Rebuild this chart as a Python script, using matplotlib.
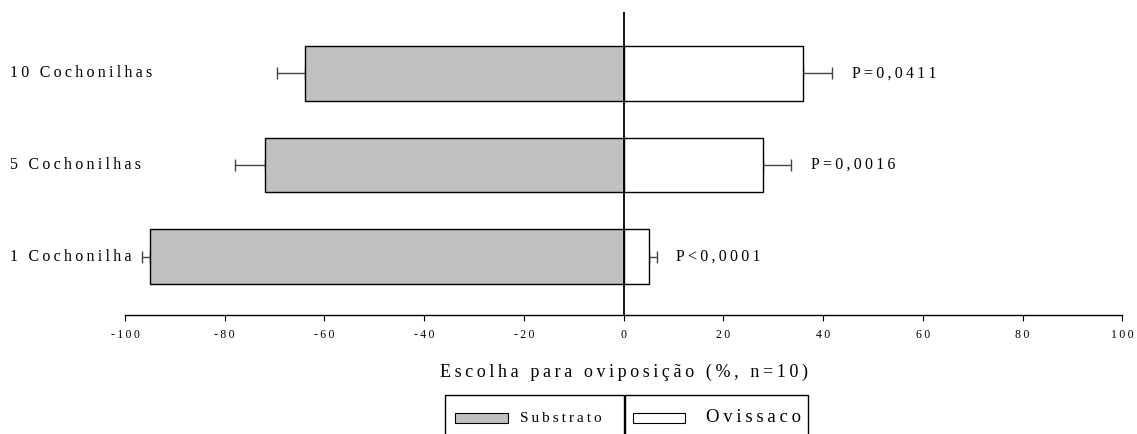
import numpy as np
import matplotlib.pyplot as plt
from matplotlib.patches import Rectangle
from matplotlib.transforms import blended_transform_factory

categories = ["1 Cochonilha", "5 Cochonilhas", "10 Cochonilhas"]
substrato = [-95, -72, -64]
substrato_err = [1.6, 6.0, 5.6]
ovissaco = [5, 28, 36]
ovissaco_err = [1.6, 5.6, 5.8]
p_labels = ["P<0,0001", "P=0,0016", "P=0,0411"]
series_names = ["Substrato", "Ovissaco"]
ticks = np.arange(-100, 101, 20)

plt.rcParams['font.family'] = ['Liberation Serif', 'DejaVu Serif']


def spaced(s):
    # the original uses wide letter spacing
    return '\u2009'.join(s)


fig = plt.figure(figsize=(11.37, 4.34), dpi=100)
ax = fig.add_axes([0.110, 0.274, 0.877, 0.698])

y = np.arange(len(categories))
h = 0.6
ax.barh(y, substrato, height=h, color='#c0c0c0', edgecolor='black', linewidth=1.0, zorder=2)
ax.barh(y, ovissaco, height=h, color='white', edgecolor='black', linewidth=1.0, zorder=2)
ax.errorbar(substrato, y, xerr=[substrato_err, [0] * 3], fmt='none', ecolor='#444444',
            elinewidth=1.0, capsize=4, capthick=1.0, zorder=1)
ax.errorbar(ovissaco, y, xerr=[[0] * 3, ovissaco_err], fmt='none', ecolor='#444444',
            elinewidth=1.0, capsize=4, capthick=1.0, zorder=1)
ax.axvline(0, color='black', linewidth=1.3, zorder=3)

for i in range(len(categories)):
    ax.text(ovissaco[i] + ovissaco_err[i] + 4, y[i], spaced(p_labels[i]), va='center', ha='left', fontsize=11.5)

trans = blended_transform_factory(fig.transFigure, ax.transData)
for i in range(len(categories)):
    ax.text(10 / 1137, y[i], spaced(categories[i]), transform=trans, va='center', ha='left', fontsize=11.5)

ax.set_xlim(-100, 100)
ax.set_ylim(-0.64, 2.67)
ax.set_xticks(ticks)
ax.set_xticklabels([spaced(str(t)) for t in ticks], fontsize=8.5)
ax.set_yticks([])
for s in ['left', 'top', 'right']:
    ax.spines[s].set_visible(False)
ax.spines['bottom'].set_linewidth(1.0)
ax.tick_params(axis='x', direction='out', length=4, pad=6)
ax.set_xlabel(spaced("Escolha para oviposição (%, n=10)"), fontsize=13, labelpad=16)

# legend boxes drawn manually
W, H = 1137, 434
def fx(px):
    return px / W
def fy(py):
    return 1 - py / H

fig.patches.append(Rectangle((fx(445), fy(440)), fx(624) - fx(445), fy(395) - fy(440),
                             transform=fig.transFigure, fill=False, edgecolor='black', linewidth=1.0))
fig.patches.append(Rectangle((fx(625), fy(440)), fx(808) - fx(625), fy(395) - fy(440),
                             transform=fig.transFigure, fill=False, edgecolor='black', linewidth=1.0))
fig.patches.append(Rectangle((fx(455), fy(423)), fx(508) - fx(455), fy(413) - fy(423),
                             transform=fig.transFigure, facecolor='#c0c0c0', edgecolor='black', linewidth=0.8))
fig.patches.append(Rectangle((fx(633), fy(423)), fx(685) - fx(633), fy(413) - fy(423),
                             transform=fig.transFigure, facecolor='white', edgecolor='black', linewidth=0.8))
fig.text(fx(520), fy(418), spaced(series_names[0]), va='center', ha='left', fontsize=11)
fig.text(fx(706), fy(418), spaced(series_names[1]), va='center', ha='left', fontsize=13.5)

fig.savefig('out.png', dpi=100)
